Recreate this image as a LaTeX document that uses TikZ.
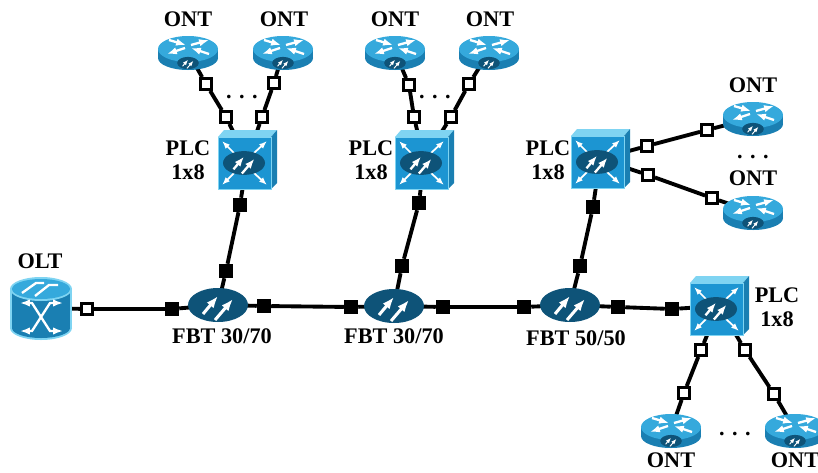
\documentclass[tikz,border=0pt]{standalone}
\usepackage{fontspec}
\setmainfont{Liberation Serif}
\usepackage{tikz}
\usetikzlibrary{arrows.meta,positioning}
\definecolor{icontop}{HTML}{35A9DC}
\definecolor{iconside}{HTML}{1A7FB2}
\definecolor{iconfront}{HTML}{1C95D2}
\definecolor{icondark}{HTML}{0E5378}
\definecolor{iconglow}{HTML}{7FD4F2}

\begin{document}
\begin{tikzpicture}[x=0.03cm,y=-0.03cm,
		lbl/.style={font=\fontsize{19}{20.5}\selectfont\bfseries,align=center,inner sep=0pt},
		dotlbl/.style={font=\fontsize{19}{20.5}\selectfont\bfseries,inner sep=0pt},
		fiber/.style={line width=3.3pt},
		whitesq/.style={draw=black,line width=2.4pt,fill=white,inner sep=0pt,minimum size=0.33cm},
		blacksq/.style={fill=black,inner sep=0pt,minimum size=0.42cm},
		ontbox/.style={inner sep=0pt,minimum width=1.4cm,minimum height=0.7cm},
		plcbox/.style={inner sep=0pt,minimum width=1.7cm,minimum height=1.7cm},
		oltbox/.style={inner sep=0pt,minimum width=1.7cm,minimum height=1.7cm},
		fbtbox/.style={inner sep=0pt,minimum width=1.7cm,minimum height=0.95cm},
		glyph/.style={draw=white,-{Latex[scale=.7]}},
		pics/oval/.style 2 args={code={
			\begin{scope}[scale=#1]
				\fill[icondark] (0,0) ellipse [x radius=30,y radius=17];
				\draw[glyph,line width=#2] (-15,9) -- (0,-9);
				\draw[glyph,line width=#2] (-3,15) -- (15,-6);
			\end{scope}
		}},
		pics/onticon/.style={code={
			\fill[iconside] (0,6) ellipse [x radius=30,y radius=12];
			\fill[iconside] (-30,-3) rectangle (30,6);
			\fill[icontop] (0,-3) ellipse [x radius=30,y radius=13];
			\draw[glyph,line width=2pt] (-19,-12) -- (-2,-7);
			\draw[glyph,line width=2pt] (-3,-4) -- (-21,2);
			\draw[glyph,line width=2pt] (3,-7) -- (21,-12);
			\draw[glyph,line width=2pt] (21,2) -- (3,-4);
			\pic at (0,11) {oval={.36}{.8pt}};
		}},
		pics/plcicon/.style={code={
			\fill[iconglow] (-29,-23) -- (-23,-30) -- (30,-30) -- (24,-23) -- cycle;
			\fill[iconside] (24,-23) -- (30,-30) -- (30,23) -- (24,29) -- cycle;
			\fill[iconfront] (-29,-23) rectangle (24,29);
			\draw[iconglow,line width=.8pt] (-29,-23) rectangle (24,29);
			\draw[glyph,line width=1.5pt] (-13,-7) -- (-25,-19);
			\draw[glyph,line width=1.5pt] (7,-7) -- (20,-19);
			\draw[glyph,line width=1.5pt] (-13,13) -- (-25,25);
			\draw[glyph,line width=1.5pt] (7,13) -- (20,25);
			\pic at (-3,3) {oval={.7}{2pt}};
		}},
		pics/olticon/.style={code={
			\fill[iconglow] (0,20) ellipse [x radius=31,y radius=12];
			\fill[iconglow] (-31,-19) rectangle (31,20);
			\fill[iconside] (0,20) ellipse [x radius=29,y radius=10];
			\fill[iconside] (-29,-19) rectangle (29,20);
			\fill[iconglow] (0,-19) ellipse [x radius=31,y radius=12];
			\fill[icontop] (0,-19) ellipse [x radius=29,y radius=10];
			\draw[white,line width=2pt] (-19,-15) -- (-5,-25) -- (3,-25);
			\draw[white,line width=2pt] (-6,-12) -- (8,-23) -- (17,-23);
			\draw[white,{Latex[scale=.7]}-{Latex[scale=.7]},line width=2pt] (-21,-5) -- (-9,-5) -- (9,23) -- (22,23);
			\draw[white,{Latex[scale=.7]}-{Latex[scale=.7]},line width=2pt] (-21,23) -- (-9,23) -- (9,-5) -- (22,-5);
		}}]

		\useasboundingbox (0,0) rectangle (818,472);

		\node [oltbox] (olt) at (41,308) {};
		\node [fbtbox] (fbtA) at (218,305) {};
		\node [fbtbox] (fbtB) at (394,306) {};
		\node [fbtbox] (fbtC) at (570,305) {};
		\node [plcbox] (plcA) at (247,160) {};
		\node [plcbox] (plcB) at (424,160) {};
		\node [plcbox] (plcC) at (600,159) {};
		\node [plcbox] (plcD) at (719,306) {};
		\node [ontbox] (ontA) at (188,52) {};
		\node [ontbox] (ontB) at (283,52) {};
		\node [ontbox] (ontC) at (395,52) {};
		\node [ontbox] (ontD) at (489,52) {};
		\node [ontbox] (ontE) at (753,118) {};
		\node [ontbox] (ontF) at (753,212) {};
		\node [ontbox] (ontG) at (671,430) {};
		\node [ontbox] (ontH) at (795,430) {};

		\node [whitesq] (sqOlt) at (87,309) {};
		\node [whitesq] (sqA) at (206,84) {};
		\node [whitesq] (sqB) at (226,117) {};
		\node [whitesq] (sqC) at (274,83) {};
		\node [whitesq] (sqD) at (262,117) {};
		\node [whitesq] (sqE) at (409,85) {};
		\node [whitesq] (sqF) at (414,117) {};
		\node [whitesq] (sqG) at (469,84) {};
		\node [whitesq] (sqH) at (451,117) {};
		\node [whitesq] (sqI) at (647,146) {};
		\node [whitesq] (sqJ) at (707,130) {};
		\node [whitesq] (sqK) at (648,175) {};
		\node [whitesq] (sqL) at (712,198) {};
		\node [whitesq] (sqM) at (701,350) {};
		\node [whitesq] (sqN) at (684,393) {};
		\node [whitesq] (sqO) at (745,350) {};
		\node [whitesq] (sqP) at (774,394) {};

		\node [blacksq] (bkA) at (172,309) {};
		\node [blacksq] (bkB) at (264,306) {};
		\node [blacksq] (bkC) at (351,307) {};
		\node [blacksq] (bkD) at (443,307) {};
		\node [blacksq] (bkE) at (524,307) {};
		\node [blacksq] (bkF) at (618,307) {};
		\node [blacksq] (bkG) at (672,309) {};
		\node [blacksq] (bkH) at (226,271) {};
		\node [blacksq] (bkI) at (240,205) {};
		\node [blacksq] (bkJ) at (402,266) {};
		\node [blacksq] (bkK) at (419,203) {};
		\node [blacksq] (bkL) at (580,266) {};
		\node [blacksq] (bkM) at (593,207) {};

		\draw [fiber] (olt) -- (sqOlt) -- (bkA) -- (fbtA);
		\draw [fiber] (fbtA) -- (bkB) -- (bkC) -- (fbtB);
		\draw [fiber] (fbtB) -- (bkD) -- (bkE) -- (fbtC);
		\draw [fiber] (fbtC) -- (bkF) -- (bkG) -- (plcD);
		\draw [fiber] (fbtA) -- (bkH) -- (bkI) -- (plcA);
		\draw [fiber] (fbtB) -- (bkJ) -- (bkK) -- (plcB);
		\draw [fiber] (fbtC) -- (bkL) -- (bkM) -- (plcC);
		\draw [fiber] (ontA) -- (sqA) -- (sqB) -- (plcA);
		\draw [fiber] (ontB) -- (sqC) -- (sqD) -- (plcA);
		\draw [fiber] (ontC) -- (sqE) -- (sqF) -- (plcB);
		\draw [fiber] (ontD) -- (sqG) -- (sqH) -- (plcB);
		\draw [fiber] (plcC) -- (sqI) -- (sqJ) -- (ontE);
		\draw [fiber] (plcC) -- (sqK) -- (sqL) -- (ontF);
		\draw [fiber] (plcD) -- (sqM) -- (sqN) -- (ontG);
		\draw [fiber] (plcD) -- (sqO) -- (sqP) -- (ontH);

		\pic at (olt) {olticon};
		\pic at (fbtA) {oval={1}{2.6pt}};
		\pic at (fbtB) {oval={1}{2.6pt}};
		\pic at (fbtC) {oval={1}{2.6pt}};
		\pic at (plcA) {plcicon};
		\pic at (plcB) {plcicon};
		\pic at (plcC) {plcicon};
		\pic at (plcD) {plcicon};
		\pic at (ontA) {onticon};
		\pic at (ontB) {onticon};
		\pic at (ontC) {onticon};
		\pic at (ontD) {onticon};
		\pic at (ontE) {onticon};
		\pic at (ontF) {onticon};
		\pic at (ontG) {onticon};
		\pic at (ontH) {onticon};

		\node [lbl] (oltLbl) at (40,261) {OLT};
		\node [lbl] (fbtAlbl) at (222,336) {FBT 30/70};
		\node [lbl] (fbtBlbl) at (394,336) {FBT 30/70};
		\node [lbl] (fbtClbl) at (576,338) {FBT 50/50};
		\node [lbl] (plcAlbl) at (188,160) {PLC\\1x8};
		\node [lbl] (plcBlbl) at (371,160) {PLC\\1x8};
		\node [lbl] (plcClbl) at (548,160) {PLC\\1x8};
		\node [lbl] (plcDlbl) at (777,307) {PLC\\1x8};
		\node [lbl] (ontAlbl) at (188,19) {ONT};
		\node [lbl] (ontBlbl) at (284,19) {ONT};
		\node [lbl] (ontClbl) at (395,19) {ONT};
		\node [lbl] (ontDlbl) at (490,19) {ONT};
		\node [lbl] (ontElbl) at (753,85) {ONT};
		\node [lbl] (ontFlbl) at (753,178) {ONT};
		\node [lbl] (ontGlbl) at (671,460) {ONT};
		\node [lbl] (ontHlbl) at (795,460) {ONT};

		\node [dotlbl,anchor=base] (dotsA) at (242,98) {. . .};
		\node [dotlbl,anchor=base] (dotsB) at (435,98) {. . .};
		\node [dotlbl,anchor=base] (dotsC) at (753,158) {. . .};
		\node [dotlbl,anchor=base] (dotsD) at (735,435) {. . .};

\end{tikzpicture}
\end{document}
